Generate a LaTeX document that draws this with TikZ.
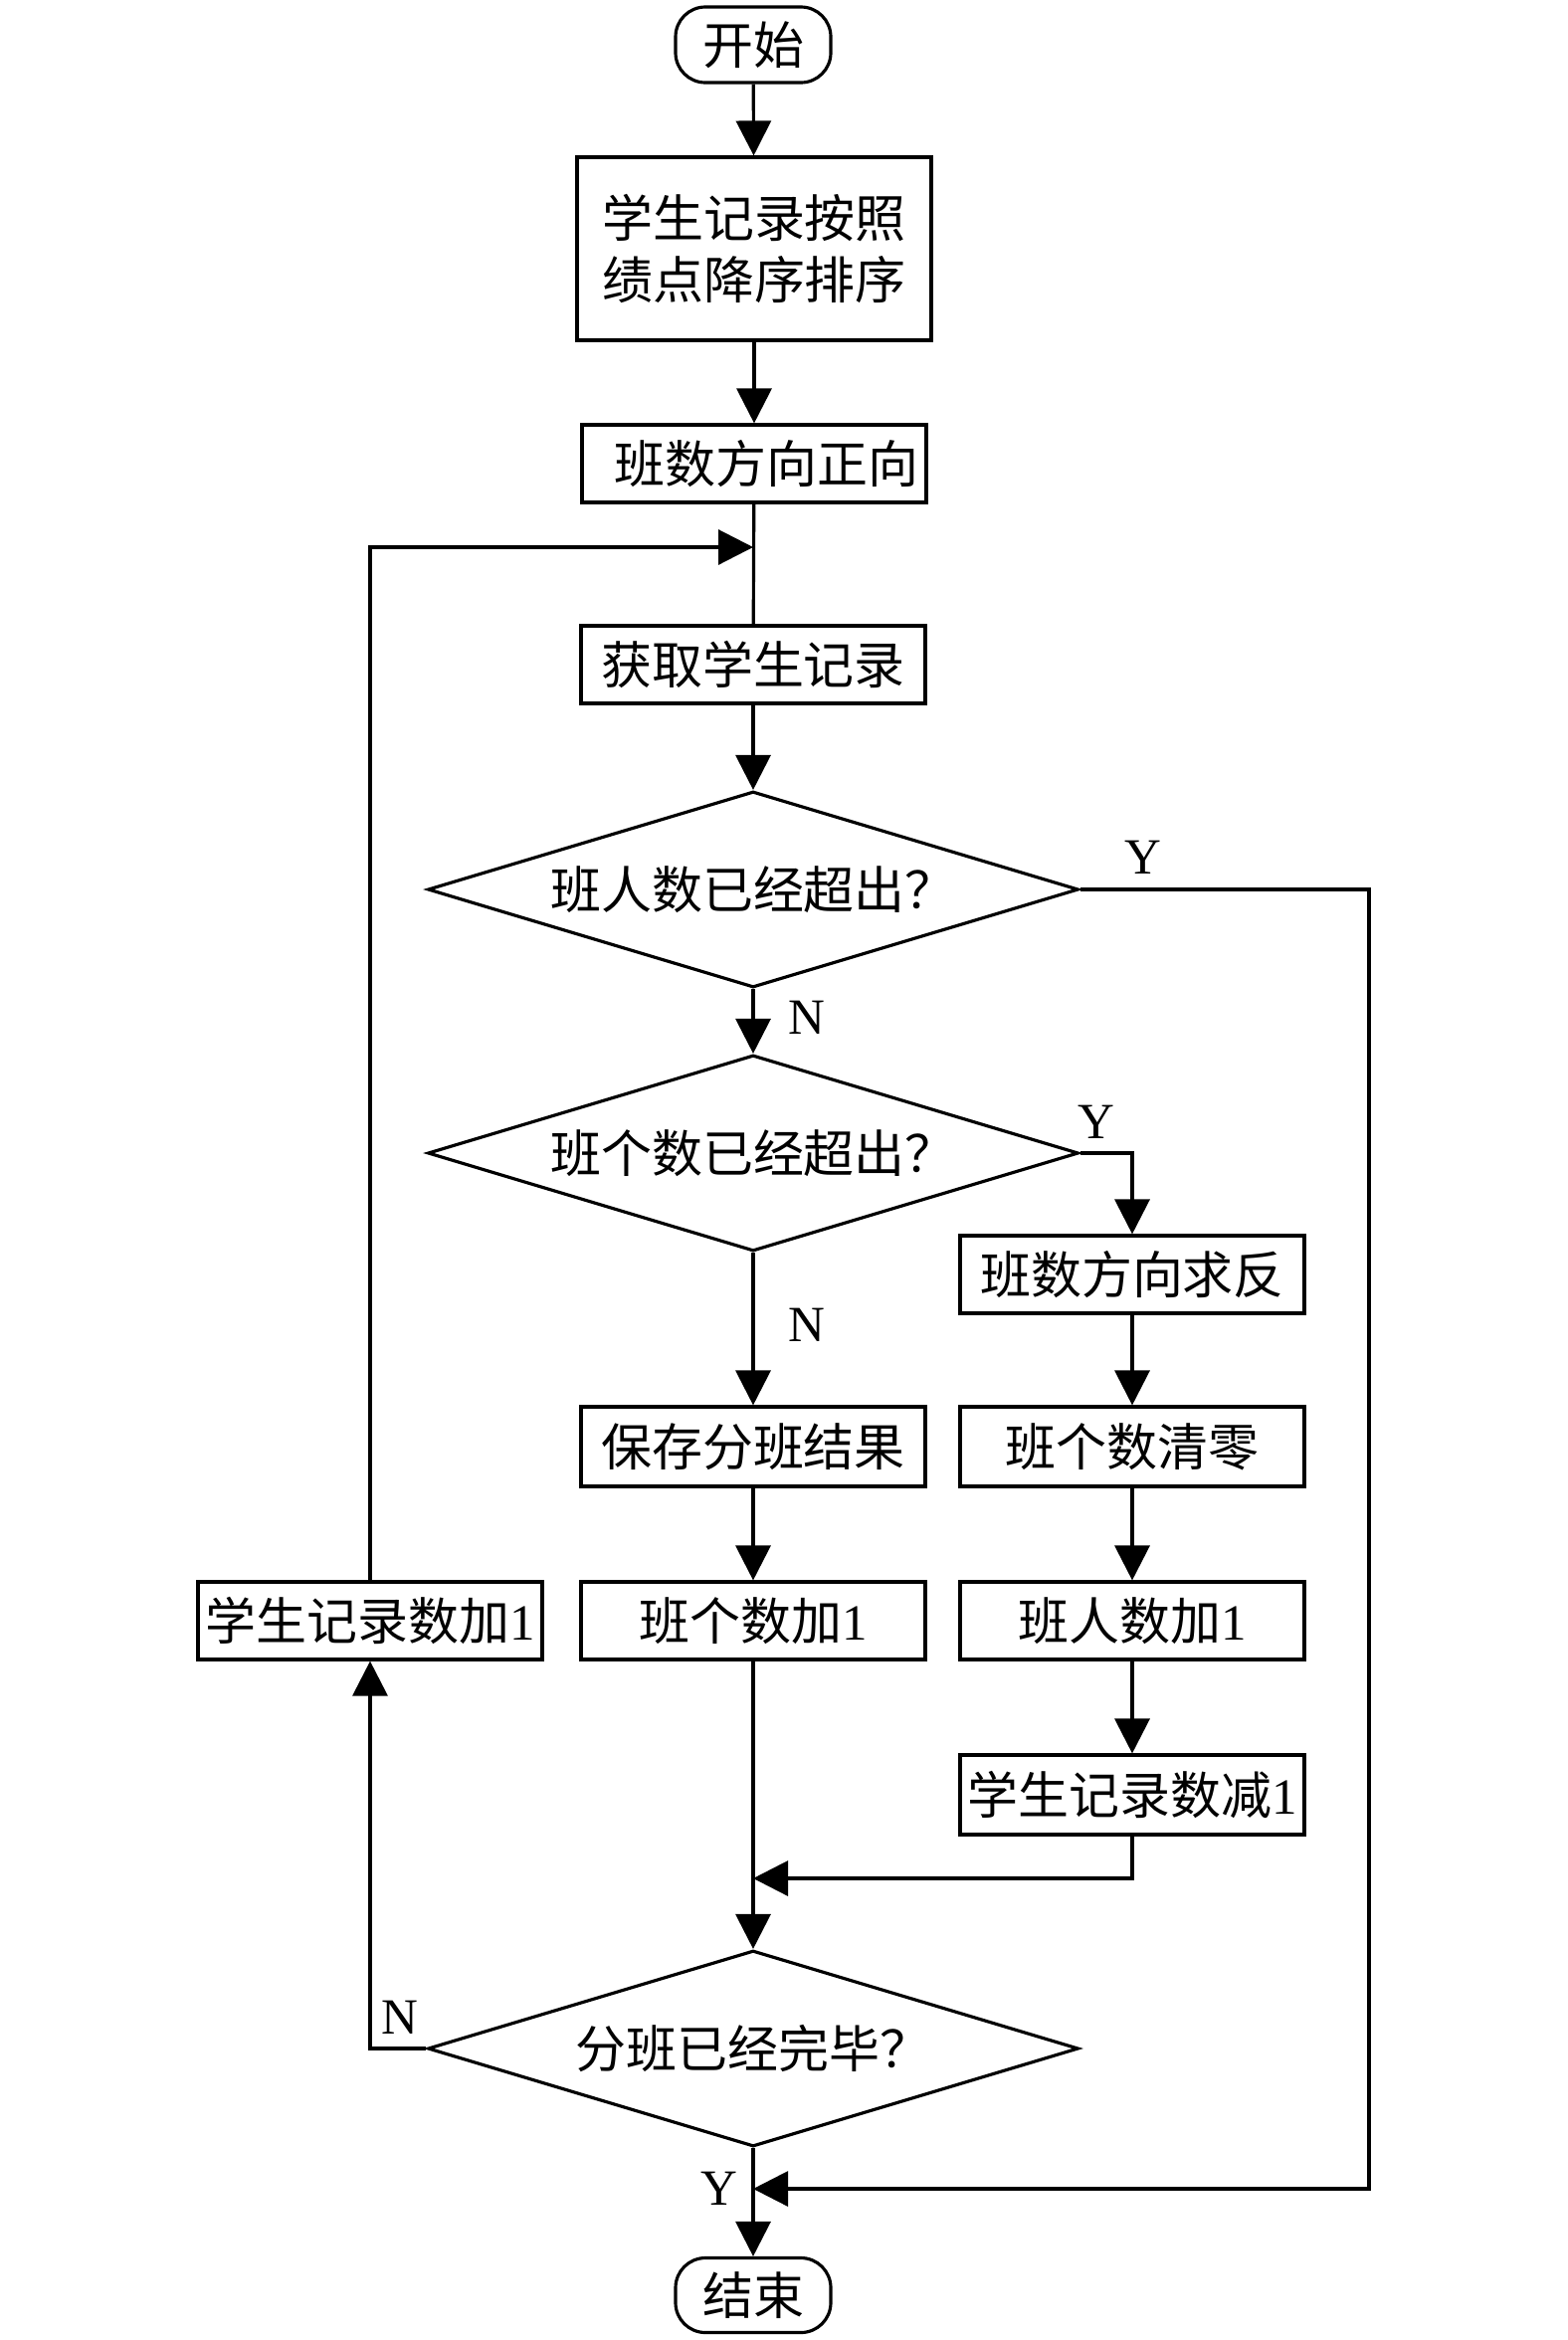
\documentclass[tikz,border=0pt]{standalone}
\usepackage{fontspec}
\setmainfont{Liberation Serif}
\newfontfamily\cjk{Noto Sans CJK SC}
\usetikzlibrary{shapes.geometric,arrows.meta}

\begin{document}
\begin{tikzpicture}[line width=0.9pt,
		proc/.style={draw, rectangle, inner sep=0pt, minimum width=3.46cm, minimum height=0.78cm, align=center, font=\cjk\fontsize{14.5}{17.6}\selectfont},
		term/.style={proc, rounded corners=0.3cm, minimum width=1.56cm, minimum height=0.76cm},
		decide/.style={draw, diamond, aspect=3.3, inner sep=0pt, minimum width=6.54cm, minimum height=1.97cm, font=\cjk\fontsize{14.5}{17.6}\selectfont},
		lbl/.style={font=\fontsize{14.5}{17}\selectfont},
		arr/.style={-{Triangle[length=3.5mm,width=3.5mm]}}]
			\useasboundingbox (0,0) rectangle (15.75,-23.52);
			\node (start) [term] at (7.57,-0.45) {开始};
			\node (sort) [proc, minimum width=3.56cm, minimum height=1.84cm] at (7.58,-2.50) {学生记录按照\\绩点降序排序};
			\node (dirpos) [proc] at (7.58,-4.66) {\hspace{0.25cm}班数方向正向};
			\node (fetch) [proc] at (7.57,-6.68) {获取学生记录};
			\node (full) [decide] at (7.57,-8.94) {班人数已经超出？};
			\node (cnt) [decide] at (7.57,-11.59) {班个数已经超出？};
			\node (rev) [proc] at (11.38,-12.81) {班数方向求反};
			\node (zero) [proc, minimum height=0.80cm] at (11.38,-14.54) {班个数清零};
			\node (pinc) [proc] at (11.38,-16.29) {班人数加{\rmfamily 1}};
			\node (sdec) [proc, minimum height=0.80cm] at (11.38,-18.04) {学生记录数减{\rmfamily 1}};
			\node (save) [proc, minimum height=0.80cm] at (7.57,-14.54) {保存分班结果};
			\node (cinc) [proc] at (7.57,-16.29) {班个数加{\rmfamily 1}};
			\node (sinc) [proc] at (3.72,-16.29) {学生记录数加{\rmfamily 1}};
			\node (done) [decide] at (7.57,-20.59) {分班已经完毕？};
			\node (end) [term, minimum height=0.75cm] at (7.57,-23.07) {结束};
			\coordinate (loop) at (7.57,-5.50);
			\coordinate (join) at (7.57,-18.88);
			\coordinate (exit) at (7.57,-22.00);
			\coordinate (rside) at (13.76,-22.00);

			\draw [arr] (start) -- (sort);
			\draw [arr] (sort) -- (dirpos);
			\draw (dirpos) -- (fetch);
			\draw [arr] (sinc.north) |- (loop);
			\draw [arr] (fetch) -- (full);
			\draw [arr] (full) -- (cnt);
			\draw [arr] (full.east) -| (rside) -- (exit);
			\draw [arr] (cnt.east) -| (rev.north);
			\draw [arr] (cnt) -- (save);
			\draw [arr] (save) -- (cinc);
			\draw [arr] (rev) -- (zero);
			\draw [arr] (zero) -- (pinc);
			\draw [arr] (pinc) -- (sdec);
			\draw [arr] (sdec.south) |- (join);
			\draw [arr] (cinc) -- (done);
			\draw [arr] (done.west) -| (sinc.south);
			\draw [arr] (done) -- (end);

			% branch labels
			\node (y1) [lbl] at (11.49,-8.62) {Y};
			\node (n1) [lbl] at (8.11,-10.23) {N};
			\node (y2) [lbl] at (11.02,-11.28) {Y};
			\node (n2) [lbl] at (8.11,-13.32) {N};
			\node (n3) [lbl] at (4.02,-20.28) {N};
			\node (y3) [lbl] at (7.23,-22.00) {Y};
		\end{tikzpicture}
\end{document}
